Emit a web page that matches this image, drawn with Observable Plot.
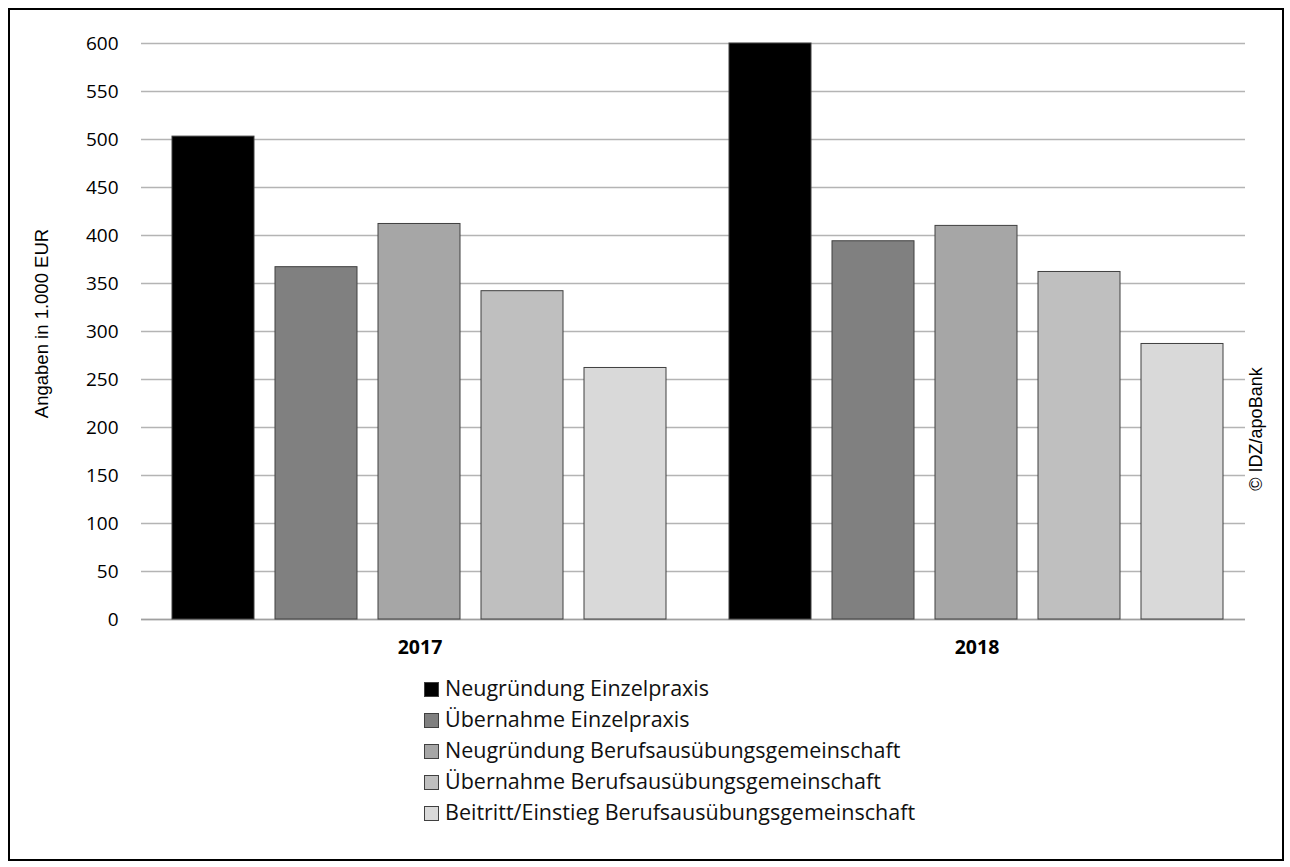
<!DOCTYPE html>
<html>
<head>
<meta charset="utf-8">
<script src="https://cdn.jsdelivr.net/npm/d3@7"></script>
<script src="https://cdn.jsdelivr.net/npm/@observablehq/plot@0.6"></script>
<style>
  html, body { margin: 0; padding: 0; background: #fff; }
  #wrap { position: relative; width: 1290px; height: 867px; font-family: "Open Sans", sans-serif; }
  #frame { position: absolute; left: 8px; top: 8px; width: 1272px; height: 849px; border: 2px solid #000; box-sizing: content-box; }
  .layer { position: absolute; left: 0; top: 0; }
  #legend { position: absolute; left: 424px; top: 672px; font-size: 21.5px; color: #111; }
  #legend .row { height: 31px; line-height: 31px; white-space: nowrap; }
  #legend .sw { display: inline-block; width: 15px; height: 15px; border: 1px solid #404040; margin-right: 6px; vertical-align: -1px; box-sizing: border-box; }
  #copy { position: absolute; left: 1256px; top: 429px; transform: translate(-50%, -50%) rotate(-90deg); font-family: "Liberation Sans", Arial, sans-serif; font-size: 18px; white-space: nowrap; color: #000; }
</style>
</head>
<body>
<div id="wrap">
  <div id="frame"></div>
  <div id="grid" class="layer"></div>
  <div id="bars" class="layer"></div>
  <div id="legend"></div>
  <div id="copy">© IDZ/apoBank</div>
</div>
<script>
const years = ["2017", "2018"];
const categories = [
  "Neugründung Einzelpraxis",
  "Übernahme Einzelpraxis",
  "Neugründung Berufsausübungsgemeinschaft",
  "Übernahme Berufsausübungsgemeinschaft",
  "Beitritt/Einstieg Berufsausübungsgemeinschaft"
];
const values2017 = [503, 367, 412, 342, 262];
const values2018 = [600, 394, 410, 362, 287];
const colors = ["#000000", "#808080", "#a6a6a6", "#bfbfbf", "#d9d9d9"];
const yTicks = [0, 50, 100, 150, 200, 250, 300, 350, 400, 450, 500, 550, 600];
const yLabel = "Angaben in 1.000 EUR";

const data = [];
categories.forEach((c, i) => {
  data.push({year: years[0], category: c, value: values2017[i]});
  data.push({year: years[1], category: c, value: values2018[i]});
});

const common = {
  width: 1290,
  height: 680,
  marginTop: 43,
  marginBottom: 61,
  marginLeft: 141,
  y: {domain: [0, 600], ticks: yTicks, label: null}
};

// Layer 1: grid, y axis, y label
const gridPlot = Plot.plot({
  ...common,
  marginRight: 45,
  style: {fontFamily: "'Open Sans', sans-serif", fontSize: "19px", color: "#000", background: "transparent"},
  x: {domain: [0, 1], axis: null},
  marks: [
    Plot.gridY(yTicks, {stroke: "#b4b4b4", strokeOpacity: 1, strokeWidth: 1.3}),
    Plot.axisY(yTicks, {tickSize: 0, tickPadding: 23, fontSize: 19, label: null}),
    Plot.text([yLabel], {frameAnchor: "left", dx: -99, dy: -8, rotate: -90, textAnchor: "middle", fontSize: 18.5, fontFamily: "'Liberation Sans', Arial, sans-serif", fill: "#000"}),
    Plot.ruleY([0], {stroke: "#a0a0a0", strokeWidth: 1.3})
  ]
});
document.getElementById("grid").appendChild(gridPlot);

// Layer 2: faceted bars
const barPlot = Plot.plot({
  ...common,
  marginRight: 35,
  style: {fontFamily: "'Open Sans', sans-serif", fontSize: "19px", color: "#000", background: "transparent"},
  fx: {domain: years, padding: 0, label: null},
  x: {domain: categories, paddingInner: 0.2, paddingOuter: 0.3, axis: null},
  color: {domain: categories, range: colors},
  marks: [
    Plot.axisFx({anchor: "bottom", tickSize: 0, tickPadding: 21, fontWeight: "bold", fontSize: 19.5, label: null}),
    Plot.barY(data, {fx: "year", x: "category", y: "value", fill: "category", stroke: "#404040", strokeWidth: 1})
  ]
});
barPlot.querySelectorAll("[aria-label='y-axis tick'], [aria-label='y-axis tick label']").forEach(n => n.remove());
document.getElementById("bars").appendChild(barPlot);

const legend = document.getElementById("legend");
categories.forEach((c, i) => {
  const row = document.createElement("div");
  row.className = "row";
  const sw = document.createElement("span");
  sw.className = "sw";
  sw.style.background = colors[i];
  row.appendChild(sw);
  row.appendChild(document.createTextNode(c));
  legend.appendChild(row);
});
</script>
</body>
</html>
